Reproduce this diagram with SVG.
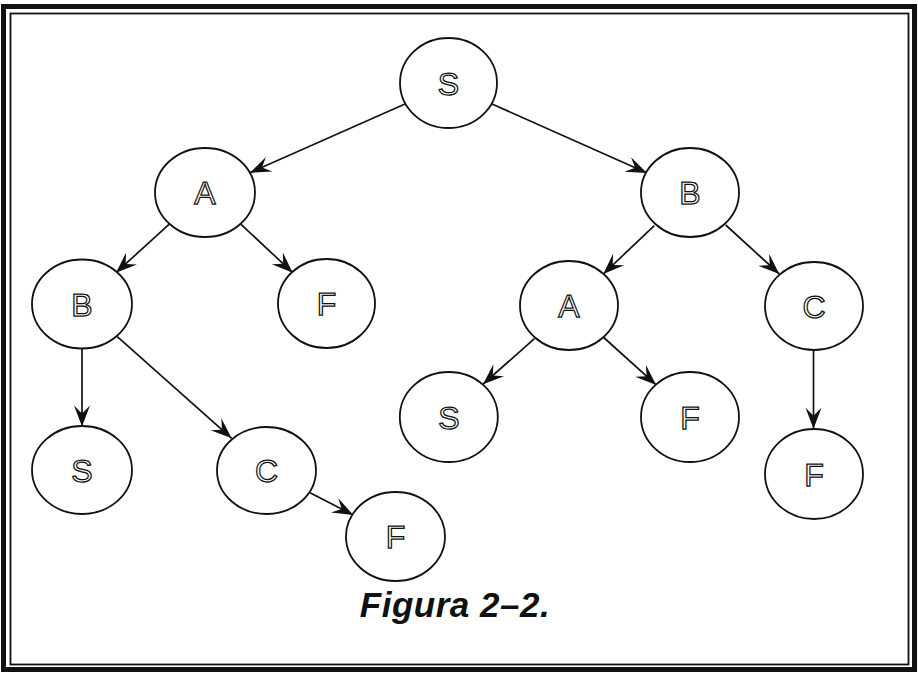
<svg xmlns="http://www.w3.org/2000/svg" width="918" height="673" viewBox="0 0 918 673">
  <style>
    .node ellipse { fill: #ffffff; stroke: #111111; stroke-width: 1.8; }
    .node text { font-family: "Liberation Sans", Arial, sans-serif; font-size: 32px; fill: #ffffff; stroke: #111111; stroke-width: 1.25; text-anchor: middle; }
    .edge { stroke: #111111; stroke-width: 1.7; fill: none; marker-end: url(#arrow); }
    .caption { font-family: "Liberation Sans", Arial, sans-serif; font-size: 35px; font-style: italic; font-weight: bold; fill: #111111; text-anchor: middle; letter-spacing: 0.5px; }
  </style>
  <defs>
    <marker id="arrow" markerUnits="userSpaceOnUse" markerWidth="24" markerHeight="20" viewBox="-23 -10 24 20" refX="0" refY="0" orient="auto">
      <path d="M0,0 L-21,-8 L-13,0 L-21,8 Z" fill="#111111"/>
    </marker>
  </defs>

  <rect width="918" height="673" fill="#ffffff"/>

  <!-- double frame -->
  <rect x="3.5" y="6.5" width="911" height="663" fill="none" stroke="#111111" stroke-width="5"/>
  <rect x="10.5" y="13.5" width="898" height="651" fill="none" stroke="#111111" stroke-width="1.8"/>

  <!-- connectors -->
  <g id="edges">
    <line class="edge" x1="405" y1="104" x2="250" y2="172.7"/>
    <line class="edge" x1="492" y1="104" x2="647" y2="173"/>
    <line class="edge" x1="169" y1="224.3" x2="116" y2="272.7"/>
    <line class="edge" x1="241" y1="224.3" x2="292.7" y2="272.7"/>
    <line class="edge" x1="654.3" y1="225.7" x2="603.3" y2="274"/>
    <line class="edge" x1="725.7" y1="225" x2="779.3" y2="274"/>
    <line class="edge" x1="82" y1="349" x2="82" y2="426.5"/>
    <line class="edge" x1="117.3" y1="336.7" x2="231.7" y2="438.3"/>
    <line class="edge" x1="310" y1="492.7" x2="353.3" y2="515"/>
    <line class="edge" x1="534.4" y1="338.6" x2="483" y2="384.2"/>
    <line class="edge" x1="603.7" y1="337.5" x2="656.2" y2="384.9"/>
    <line class="edge" x1="813.5" y1="350.6" x2="813.5" y2="428.8"/>
  </g>

  <!-- nodes -->
  <g id="n-S0" class="node"><ellipse cx="448.5" cy="83" rx="48.5" ry="45"/><text x="448.5" y="94.5">S</text></g>
  <g id="n-A1" class="node"><ellipse cx="205" cy="192.5" rx="50" ry="44.5"/><text x="205" y="204">A</text></g>
  <g id="n-B1" class="node"><ellipse cx="690" cy="192.5" rx="49" ry="44.5"/><text x="690" y="204">B</text></g>
  <g id="n-B2" class="node"><ellipse cx="82" cy="304" rx="50" ry="44.5"/><text x="82" y="315.5">B</text></g>
  <g id="n-F2" class="node"><ellipse cx="326.5" cy="303.5" rx="48.5" ry="44.5"/><text x="326.5" y="315">F</text></g>
  <g id="n-A3" class="node"><ellipse cx="569" cy="305.5" rx="49" ry="44.5"/><text x="569" y="317">A</text></g>
  <g id="n-C3" class="node"><ellipse cx="814" cy="306" rx="49" ry="44"/><text x="814" y="317.5">C</text></g>
  <g id="n-S4" class="node"><ellipse cx="82" cy="470" rx="50" ry="44"/><text x="82" y="481.5">S</text></g>
  <g id="n-C4" class="node"><ellipse cx="266.5" cy="470.5" rx="49.5" ry="43.5"/><text x="266.5" y="482">C</text></g>
  <g id="n-S5" class="node"><ellipse cx="448.8" cy="417" rx="49" ry="45"/><text x="448.8" y="428.5">S</text></g>
  <g id="n-F5" class="node"><ellipse cx="690" cy="417" rx="49" ry="45"/><text x="690" y="428.5">F</text></g>
  <g id="n-F6" class="node"><ellipse cx="814" cy="474" rx="49" ry="45"/><text x="814" y="485.5">F</text></g>
  <g id="n-F7" class="node"><ellipse cx="395.5" cy="536.5" rx="49.5" ry="44.5"/><text x="395.5" y="548">F</text></g>

  <text class="caption" x="455" y="617">Figura 2–2.</text>
</svg>
